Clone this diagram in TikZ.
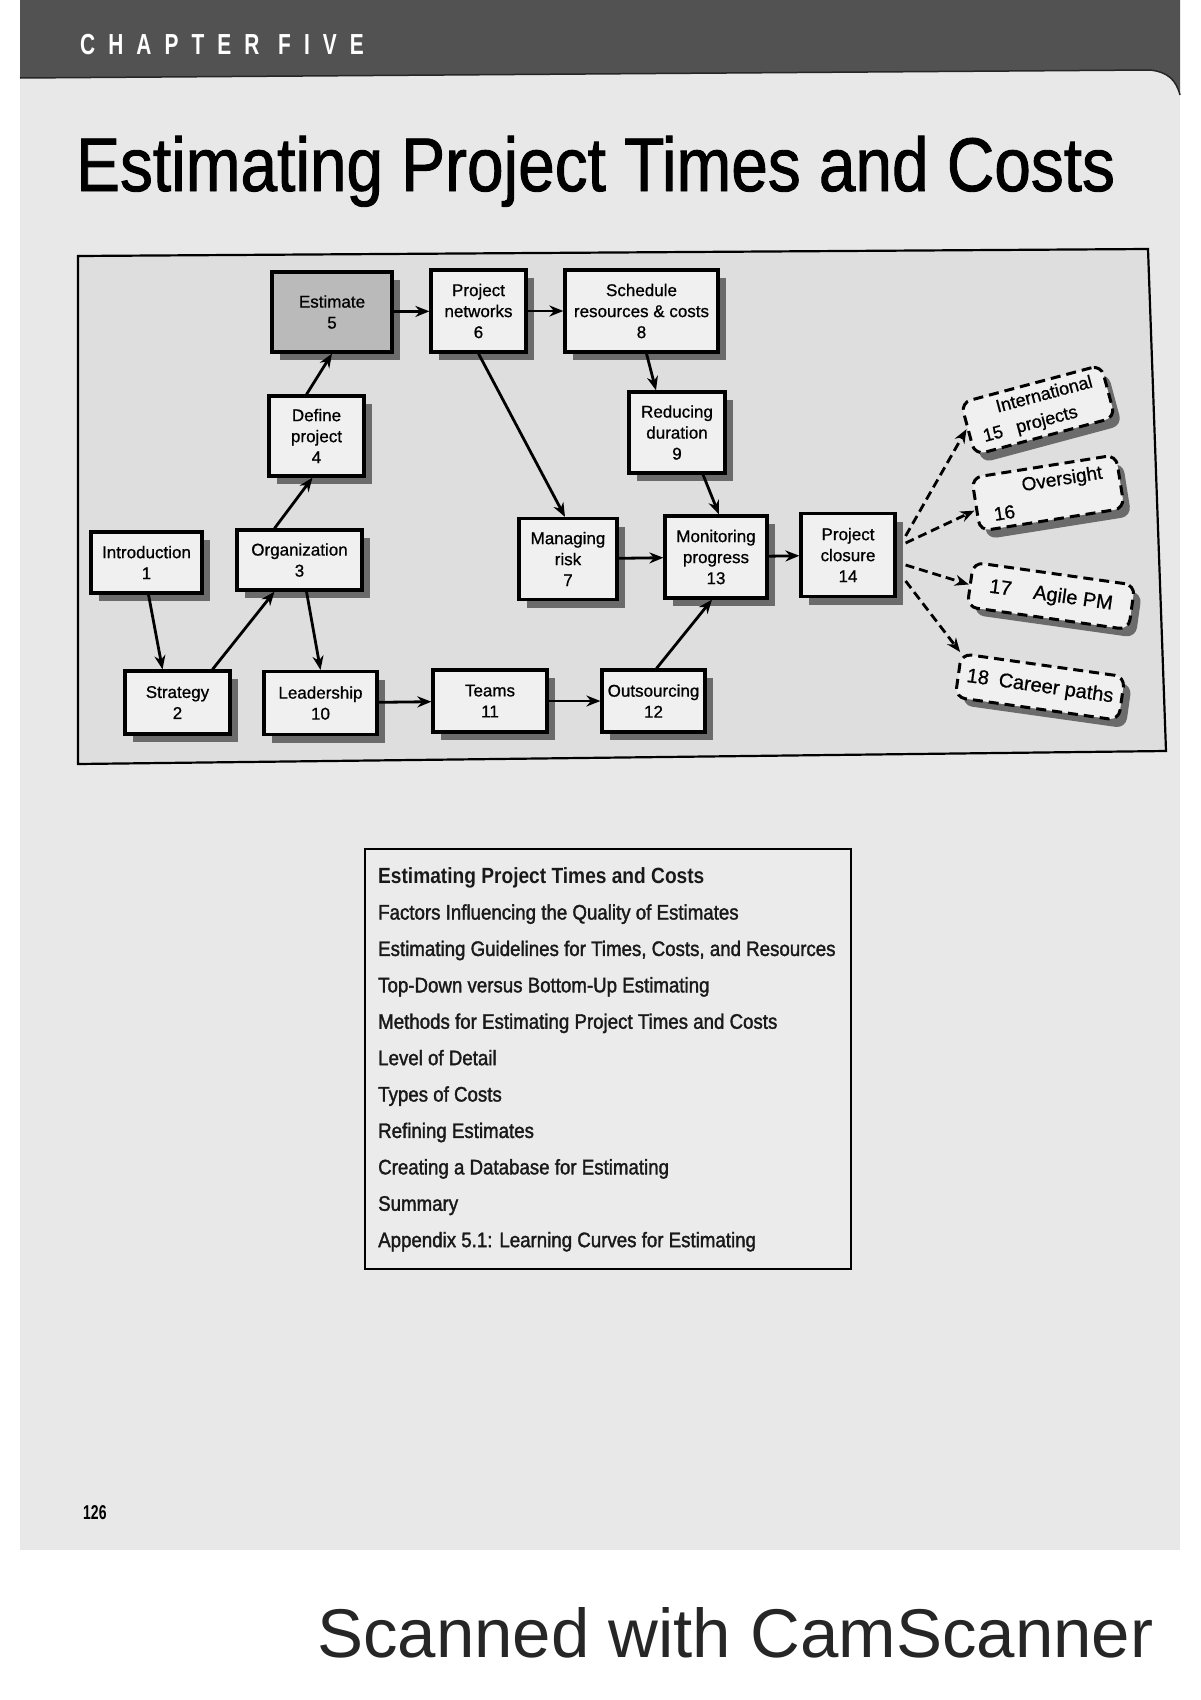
\documentclass[tikz,border=0pt]{standalone}
\usepackage{fontspec}
\setmainfont{Liberation Sans}
\newfontfamily\titlefont[FakeStretch=0.865,FakeBold=1.2]{Liberation Sans}
\newfontfamily\chapfont[FakeStretch=0.72,LetterSpace=45]{Liberation Sans}
\newfontfamily\boxfont[FakeBold=0.8]{Liberation Sans}
\newfontfamily\tocfont[FakeStretch=0.89,FakeBold=1.6]{Liberation Sans}
\newfontfamily\tocheadfont[FakeStretch=0.87]{Liberation Sans}
\newfontfamily\pagefont[FakeStretch=0.7]{Liberation Sans}
\usetikzlibrary{arrows.meta,shadows}

\begin{document}
\begin{tikzpicture}[x=1pt,y=-1pt,
		box/.style={draw, line width=3.2pt, fill=black!6, align=center,
			font=\boxfont\fontsize{17}{21}\selectfont, inner sep=2pt,
			general shadow={fill=black!58, shadow xshift=8pt, shadow yshift=-8pt}},
		dbox/.style={draw, line width=3pt, dash pattern=on 10pt off 6pt,
			rounded corners=10pt, fill=black!6, align=left, inner sep=4pt,
			font=\boxfont\fontsize{19}{22}\selectfont,
			general shadow={fill=black!58, shadow xshift=7pt, shadow yshift=-8pt}},
		flow/.style={line width=2.8pt, -{Stealth[length=14pt,width=11pt]}},
		dflow/.style={flow, dash pattern=on 9pt off 5pt}]
			\useasboundingbox (0,0) rectangle (1200,1700);
			\fill [white] (0,0) rectangle (1200,1700);
			\fill [black!9] (20,70) rectangle (1180,1550);
			\fill [black!68] (20,0) -- (1180,0) -- (1180,95) .. controls (1176,80) and (1168,72) .. (1150,70) -- (20,78) -- cycle;
			\draw [line width=1.5pt, black!85] (20,78) -- (1150,70) .. controls (1168,72) and (1176,80) .. (1180,95);
			\node [anchor=base west, inner sep=0pt, text=white, font=\chapfont\bfseries\fontsize{29}{30}\selectfont] (chap) at (80,54) {CHAPTER FIVE};
			\node [anchor=base west, inner sep=0pt, font=\titlefont\fontsize{76}{80}\selectfont] (title) at (76,191) {Estimating Project Times and Costs};

			\draw [line width=2.2pt, fill=black!13] (78,256) -- (1148,249) -- (1166,751) -- (78,764) -- cycle;

			\node [box, fill=black!27, minimum width=120, minimum height=80] (estimate) at (332,312) {Estimate\\5};
			\node [box, minimum width=95, minimum height=82] (networks) at (478.5,311) {Project\\networks\\6};
			\node [box, minimum width=153, minimum height=82] (schedule) at (641.5,311) {Schedule\\resources \& costs\\8};
			\node [box, minimum width=95, minimum height=80] (define) at (316.5,436) {Define\\project\\4};
			\node [box, minimum width=96, minimum height=81] (reducing) at (677,432.5) {Reducing\\duration\\9};
			\node [box, minimum width=111, minimum height=61] (intro) at (146.5,562.5) {Introduction\\1};
			\node [box, minimum width=125, minimum height=60] (org) at (299.5,560) {Organization\\3};
			\node [box, minimum width=98, minimum height=81] (risk) at (568,559) {Managing\\risk\\7};
			\node [box, minimum width=102, minimum height=82] (monitor) at (716,557) {Monitoring\\progress\\13};
			\node [box, minimum width=94, minimum height=83] (closure) at (848,555) {Project\\closure\\14};
			\node [box, minimum width=105, minimum height=63] (strategy) at (177.5,702.5) {Strategy\\2};
			\node [box, minimum width=113, minimum height=63] (leader) at (320.5,703) {Leadership\\10};
			\node [box, minimum width=114, minimum height=62] (teams) at (490,701) {Teams\\11};
			\node [box, minimum width=103, minimum height=62] (outsource) at (653.5,701) {Outsourcing\\12};

			\node [dbox, rotate=15, minimum width=145, minimum height=54, font=\boxfont\fontsize{18}{25}\selectfont] (intl) at (1038,410) {\hspace*{20pt}International\\15\hspace{14pt}projects};
			\node [dbox, rotate=9, minimum width=146, minimum height=54, font=\boxfont\fontsize{19}{25}\selectfont] (oversight) at (1048,493) {\hspace*{32pt}Oversight\\16};
			\node [dbox, rotate=-8, minimum width=163, minimum height=45, font=\boxfont\fontsize{20}{22}\selectfont] (agile) at (1051,596) {17\hspace{22pt}Agile PM};
			\node [dbox, rotate=-8, minimum width=165, minimum height=44, font=\boxfont\fontsize{20}{22}\selectfont] (career) at (1040,687) {18\hspace{10pt}Career paths};

			\draw [flow] (estimate) -- (networks);
			\draw [flow] (networks) -- (schedule);
			\draw [flow] ([xshift=-10pt]define.north) -- (estimate.south);
			\draw [flow] ([xshift=-25pt]org.north) -- ([xshift=-4pt]define.south);
			\draw [flow] ([xshift=2pt]intro.south) -- ([xshift=-15pt]strategy.north);
			\draw [flow] ([xshift=35pt]strategy.north) -- ([xshift=-25pt]org.south);
			\draw [flow] ([xshift=7pt]org.south) -- (leader.north);
			\draw [flow] (leader) -- (teams);
			\draw [flow] (teams) -- (outsource);
			\draw [flow] ([xshift=3pt]outsource.north) -- ([xshift=-4pt]monitor.south);
			\draw [flow] (networks.south) -- ([xshift=-3pt]risk.north);
			\draw [flow] ([xshift=5pt]schedule.south) -- ([xshift=-21pt]reducing.north);
			\draw [flow] ([xshift=26pt]reducing.south) -- ([xshift=3pt]monitor.north);
			\draw [flow] (risk) -- (monitor);
			\draw [flow] (monitor) -- (closure);
			\draw [dflow] ([xshift=9pt,yshift=19pt]closure.east) -- (intl.west);
			\draw [dflow] ([xshift=9pt,yshift=12pt]closure.east) -- ([yshift=-6pt]oversight.west);
			\draw [dflow] ([xshift=9pt,yshift=-10pt]closure.east) -- (agile.west);
			\draw [dflow] ([xshift=9pt,yshift=-26pt]closure.east) -- (career.north west);

			\draw [line width=2.2pt, fill=black!8] (365,849) rectangle (851,1269);
			\node [anchor=north west, align=left, inner sep=0pt, text=black!90, font=\tocfont\fontsize{21}{36.4}\selectfont] (toc) at (378,867) {{\tocheadfont\bfseries\fontsize{22}{36.4}\selectfont Estimating Project Times and Costs}\\
				Factors Influencing the Quality of Estimates\\
				Estimating Guidelines for Times, Costs, and Resources\\
				Top-Down versus Bottom-Up Estimating\\
				Methods for Estimating Project Times and Costs\\
				Level of Detail\\
				Types of Costs\\
				Refining Estimates\\
				Creating a Database for Estimating\\
				Summary\\
				Appendix 5.1: Learning Curves for Estimating};

			\node [anchor=base west, inner sep=0pt, font=\pagefont\bfseries\fontsize{20}{20}\selectfont] (pagenum) at (83,1519) {126};
			\node [anchor=base west, inner sep=0pt, text=black!85, font=\fontsize{69}{72}\selectfont] (scan) at (317,1657) {Scanned with CamScanner};
		\end{tikzpicture}
\end{document}
